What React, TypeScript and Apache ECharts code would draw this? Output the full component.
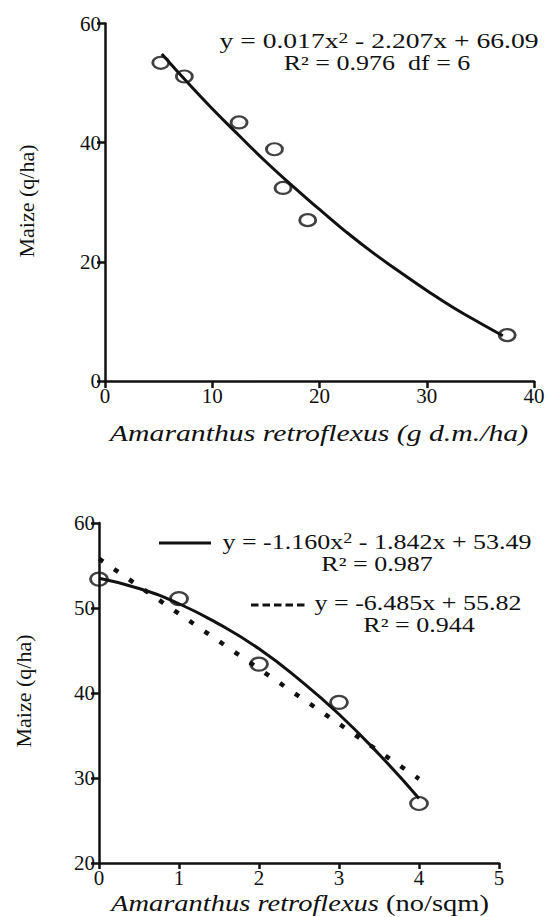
import React, { useEffect, useRef } from "react";
import * as echarts from "echarts";

// ---- Top panel: yield vs. weed biomass ----
const topX = [5.2, 7.4, 12.5, 15.8, 16.6, 18.9, 37.5];
const topY = [53.4, 51.1, 43.4, 38.9, 32.4, 27.0, 7.7];
// fitted curve
const topFitX = [5.3, 8, 10, 12.5, 15, 17.5, 20, 22.5, 25, 27.5, 30, 32.5, 35, 37.1];
const topFitY = [54.9, 49.5, 45.7, 41.2, 36.8, 32.7, 28.8, 25.0, 21.5, 18.3, 15.2, 12.3, 9.7, 7.6];
const topXTicks = [0, 10, 20, 30, 40];
const topYTicks = [0, 20, 40, 60];

// ---- Bottom panel: yield vs. weed density ----
const botX = [0, 1, 2, 3, 4];
const botY = [53.4, 51.1, 43.4, 38.9, 27.0];
const botQuadX = [0, 0.5, 1, 1.5, 2, 2.5, 3, 3.5, 4];
const botQuadY = [53.5, 52.3, 50.5, 48.1, 45.2, 41.6, 37.5, 32.8, 27.6];
const botLinX = [0, 4];
const botLinY = [55.8, 29.9];
const botXTicks = [0, 1, 2, 3, 4, 5];
const botYTicks = [20, 30, 40, 50, 60];

const topEq1 = "y = 0.017x{sup|2} - 2.207x + 66.09";
const topEq2 = "R² = 0.976  df = 6";
const botEq1 = "y = -1.160x{sup|2} - 1.842x + 53.49";
const botEq2 = "R² = 0.987";
const botEq3 = "y = -6.485x + 55.82";
const botEq4 = "R² = 0.944";
const yTitle = "Maize (q/ha)";
const topXTitle = "Amaranthus retroflexus (g d.m./ha)";
const botXTitleItalic = "Amaranthus retroflexus";
const botXTitleRoman = " (no/sqm)";

const FONT = "Liberation Serif";
const INK = "#111";
const ELLIPSE = "path://M0,5 A5,5 0 1,1 10,5 A5,5 0 1,1 0,5 Z";

const pairs = (xs: number[], ys: number[]) => xs.map((x, i) => [x, ys[i]]);

function axisCommon(tickLen: number) {
  return {
    axisLine: { lineStyle: { color: INK, width: 2.5 } },
    axisTick: { length: tickLen, lineStyle: { color: INK, width: 2.5 } },
    splitLine: { show: false },
    axisLabel: {
      color: INK,
      margin: 4,
      formatter: (v: number) => "{t|" + v + "}",
      rich: { t: { fontFamily: FONT, fontSize: 21, color: INK } },
    },
  };
}

function eqText(x: number, y: number, text: string, scaleX: number, size = 20) {
  return {
    type: "text",
    x,
    y,
    scaleX,
    style: {
      text,
      fill: INK,
      fontFamily: FONT,
      fontSize: size,
      textAlign: "center",
      textVerticalAlign: "middle",
      rich: {
        n: { fontFamily: FONT, fontSize: size, fill: INK },
        sup: { fontFamily: FONT, fontSize: 14, fill: INK, verticalAlign: "top", padding: [0, 0, 6, 0] },
      },
    },
  };
}

function richTitle(x: number, y: number, text: string, rotation: number, size: number, italic: boolean, scaleX = 1) {
  return {
    type: "text",
    x,
    y,
    rotation,
    scaleX,
    style: {
      text: "{a|" + text + "}",
      fill: INK,
      fontFamily: FONT,
      fontSize: size,
      textAlign: "center",
      textVerticalAlign: "middle",
      rich: {
        a: { fontFamily: FONT, fontSize: size, fontStyle: italic ? "italic" : "normal", fill: INK },
      },
    },
  };
}

export default function App() {
  const ref = useRef<HTMLDivElement>(null);
  useEffect(() => {
    if (!ref.current) return;
    const chart = echarts.init(ref.current, undefined, { renderer: "svg" });
    const scatterStyle = {
      color: "rgba(0,0,0,0)",
      borderColor: INK,
      borderWidth: 2.5,
    };
    chart.setOption({
      animation: false,
      backgroundColor: "#fff",
      textStyle: { fontFamily: FONT },
      grid: [
        { left: 105, top: 23.5, width: 429, height: 357.5, outerBoundsMode: "none" },
        { left: 99, top: 523, width: 400, height: 340, outerBoundsMode: "none" },
      ],
      xAxis: [
        {
          gridIndex: 0,
          type: "value",
          min: topXTicks[0],
          max: topXTicks[topXTicks.length - 1],
          interval: 10,
          ...axisCommon(7),
        },
        {
          gridIndex: 1,
          type: "value",
          min: botXTicks[0],
          max: botXTicks[botXTicks.length - 1],
          interval: 1,
          ...axisCommon(6),
        },
      ],
      yAxis: [
        {
          gridIndex: 0,
          type: "value",
          min: topYTicks[0],
          max: topYTicks[topYTicks.length - 1],
          interval: 20,
          ...axisCommon(8),
        },
        {
          gridIndex: 1,
          type: "value",
          min: botYTicks[0],
          max: botYTicks[botYTicks.length - 1],
          interval: 10,
          ...axisCommon(8),
        },
      ],
      series: [
        {
          type: "line",
          xAxisIndex: 0,
          yAxisIndex: 0,
          data: pairs(topFitX, topFitY),
          smooth: true,
          showSymbol: false,
          lineStyle: { color: INK, width: 3 },
        },
        {
          type: "scatter",
          xAxisIndex: 0,
          yAxisIndex: 0,
          data: pairs(topX, topY),
          symbol: ELLIPSE,
          symbolSize: [16, 12],
          itemStyle: scatterStyle,
        },
        {
          type: "line",
          xAxisIndex: 1,
          yAxisIndex: 1,
          data: pairs(botLinX, botLinY),
          showSymbol: false,
          lineStyle: { color: INK, width: 4.5, type: [5, 13.3], cap: "butt" },
        },
        {
          type: "line",
          xAxisIndex: 1,
          yAxisIndex: 1,
          data: pairs(botQuadX, botQuadY),
          smooth: true,
          showSymbol: false,
          lineStyle: { color: INK, width: 3 },
        },
        {
          type: "scatter",
          xAxisIndex: 1,
          yAxisIndex: 1,
          data: pairs(botX, botY),
          symbol: ELLIPSE,
          symbolSize: [17, 13],
          itemStyle: scatterStyle,
        },
      ],
      graphic: [
        eqText(379, 41, topEq1, 1.38),
        eqText(377, 63, "{n|" + topEq2 + "}", 1.3),
        eqText(377, 542, botEq1, 1.3),
        eqText(377, 564, "{n|" + botEq2 + "}", 1.3),
        eqText(418, 603, "{n|" + botEq3 + "}", 1.3),
        eqText(419, 625, "{n|" + botEq4 + "}", 1.3),
        {
          type: "line",
          shape: { x1: 159, y1: 543, x2: 211, y2: 543 },
          style: { stroke: INK, lineWidth: 3 },
        },
        {
          type: "line",
          shape: { x1: 251, y1: 605, x2: 305, y2: 605 },
          style: { stroke: INK, lineWidth: 3, lineDash: [7.5, 4] },
        },
        richTitle(26, 201, yTitle, Math.PI / 2, 22, false),
        richTitle(23.5, 691, yTitle, Math.PI / 2, 22, false),
        richTitle(319, 433, topXTitle, 0, 24, true, 1.24),
        {
          type: "text",
          x: 300,
          y: 903,
          scaleX: 1.24,
          style: {
            text: "{i|" + botXTitleItalic + "}{r|" + botXTitleRoman + "}",
            fill: INK,
            fontFamily: FONT,
            fontSize: 23,
            textAlign: "center",
            textVerticalAlign: "middle",
            rich: {
              i: { fontFamily: FONT, fontSize: 23, fontStyle: "italic", fill: INK },
              r: { fontFamily: FONT, fontSize: 23, fill: INK },
            },
          },
        },
      ],
    });
    return () => chart.dispose();
  }, []);
  return (
    <div
      ref={ref}
      style={{ position: "fixed", left: 0, top: 0, width: 549, height: 917, background: "#fff" }}
    />
  );
}
